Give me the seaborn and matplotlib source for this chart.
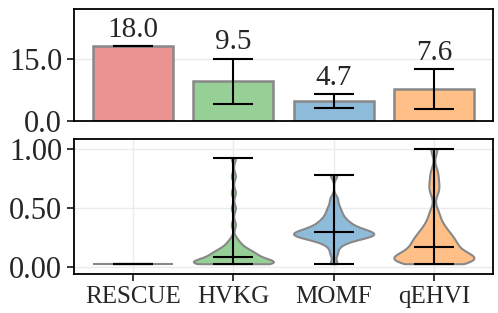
import numpy as np
import pandas as pd
import matplotlib
matplotlib.use("Agg")
import matplotlib.pyplot as plt
import matplotlib.colors as mcolors
import seaborn as sns

# Dados
metodos = ["RESCUE", "HVKG", "MOMF", "qEHVI"]
media_barras = [18.0, 9.5, 4.7, 7.6]
desvio_barras = [0.0, 5.5, 1.7, 4.8]

amostras = {
    "RESCUE": [0.025] * 31,
    "HVKG": [0.03, 0.03, 0.03, 0.03, 0.03, 0.03, 0.035, 0.035, 0.035, 0.04,
             0.04, 0.04, 0.045, 0.045, 0.05, 0.05, 0.055, 0.06, 0.065, 0.07,
             0.087, 0.09, 0.10, 0.10, 0.11, 0.11, 0.12, 0.12, 0.13, 0.14,
             0.15, 0.16, 0.17, 0.19, 0.21, 0.24, 0.36, 0.50, 0.63, 0.77, 0.92],
    "MOMF": [0.03, 0.12, 0.18, 0.21, 0.23, 0.24, 0.25, 0.26, 0.26, 0.27, 0.27,
             0.28, 0.28, 0.29, 0.29, 0.30, 0.30, 0.31, 0.32, 0.33, 0.34, 0.35,
             0.37, 0.38, 0.40, 0.42, 0.45, 0.48, 0.52, 0.58, 0.78],
    "qEHVI": [0.03, 0.04, 0.05, 0.05, 0.06, 0.06, 0.07, 0.07, 0.08, 0.08, 0.09,
              0.10, 0.11, 0.13, 0.15, 0.17, 0.18, 0.20, 0.21, 0.23, 0.25, 0.27,
              0.29, 0.32, 0.35, 0.40, 0.47, 0.64, 0.71, 0.80, 1.00],
}
# suavização do KDE de cada violino
ajuste_bw = {"RESCUE": 1.0, "HVKG": 0.32, "MOMF": 0.45, "qEHVI": 0.42}

cores_base = ["tab:red", "tab:green", "tab:blue", "tab:orange"]
# cor com alpha 0.5 sobre fundo branco
cores = {m: tuple(0.5 * np.array(mcolors.to_rgb(c)) + 0.5)
         for m, c in zip(metodos, cores_base)}

sns.set_style("white")
plt.rcParams["font.family"] = ["Liberation Serif", "DejaVu Serif"]
plt.rcParams["axes.linewidth"] = 1.3
plt.rcParams["axes.edgecolor"] = "black"

fig = plt.figure(figsize=(4.98, 3.13), dpi=100)
ax1 = fig.add_axes([0.1486, 0.6144, 0.8414, 0.3568])
ax2 = fig.add_axes([0.1486, 0.1246, 0.8414, 0.4304])

# Painel superior — barras com desvio
df_bar = pd.DataFrame({"metodo": metodos, "valor": media_barras})
sns.barplot(data=df_bar, x="metodo", y="valor", hue="metodo", palette=cores,
            saturation=1, width=0.8, edgecolor="#888888", linewidth=1.8,
            legend=False, ax=ax1, zorder=2)
ax1.errorbar(range(len(metodos)), media_barras, yerr=desvio_barras, fmt="none",
             ecolor="black", elinewidth=1.5, capsize=14.4, capthick=1.5, zorder=3)
for i, (m, s) in enumerate(zip(media_barras, desvio_barras)):
    ax1.text(i, m + s + 0.8, f"{m:.1f}", ha="center", va="bottom", fontsize=21)
ax1.set_ylim(0, 27)
ax1.set_yticks([0, 15])
ax1.set_yticklabels(["0.0", "15.0"])
ax1.set_xlim(-0.59, 3.59)
ax1.set_xticks([])
ax1.set_xlabel("")
ax1.set_ylabel("")
ax1.yaxis.grid(True, color="#ebebeb", lw=1, zorder=0)
ax1.set_axisbelow(True)
ax1.tick_params(axis="y", labelsize=22, length=5, width=1.3, left=True)

# Painel inferior — violinos (um por método, cada um com seu bw)
df_vio = pd.DataFrame([(k, v) for k, vals in amostras.items() for v in vals],
                      columns=["metodo", "valor"])
for m in metodos:
    sns.violinplot(data=df_vio[df_vio["metodo"] == m], x="metodo", y="valor",
                   order=metodos, hue="metodo", hue_order=metodos, palette=cores,
                   saturation=1, cut=0, inner=None, density_norm="width",
                   bw_adjust=ajuste_bw[m], linecolor="#888888", linewidth=1.5,
                   width=0.8, dodge=False, legend=False, ax=ax2)
for i, m in enumerate(metodos):
    v = np.array(amostras[m])
    ax2.vlines(i, v.min(), v.max(), color="black", lw=1.5, zorder=4)
    ax2.hlines([v.min(), np.median(v), v.max()], i - 0.2, i + 0.2,
               color="black", lw=1.5, zorder=4)
ax2.set_ylim(-0.057, 1.08)
ax2.set_xlim(-0.59, 3.59)
ax2.set_yticks([0, 0.5, 1.0])
ax2.set_yticklabels(["0.00", "0.50", "1.00"])
ax2.set_xlabel("")
ax2.set_ylabel("")
ax2.grid(True, color="#ebebeb", lw=1, zorder=0)
ax2.set_axisbelow(True)
ax2.tick_params(axis="y", labelsize=22, length=5, width=1.3, left=True)
ax2.tick_params(axis="x", labelsize=18, length=5, width=1.3, bottom=True)

fig.savefig("out.png", dpi=100)
